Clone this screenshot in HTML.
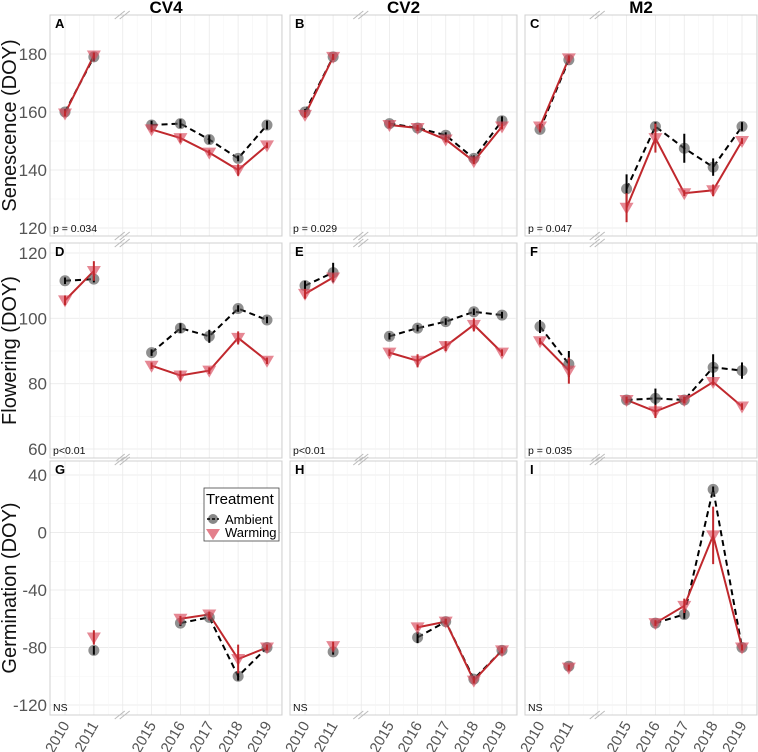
<!DOCTYPE html>
<html><head><meta charset="utf-8"><style>
body{margin:0;background:#fff}
svg{display:block;font-family:"Liberation Sans",sans-serif}
</style></head><body>
<svg id="c" width="758" height="752"></svg>
<script>
const years=["2010","2011","2015","2016","2017","2018","2019"];
const slots=[0,1,3,4,5,6,7];
const colTitles=["CV4","CV2","M2"];
const rowTitles=["Senescence (DOY)","Flowering (DOY)","Germination (DOY)"];
const letters=["A","B","C","D","E","F","G","H","I"];
const pvals=["p = 0.034","p = 0.029","p = 0.047","p<0.01","p<0.01","p = 0.035","NS","NS","NS"];
const yTicks0=[120,140,160,180];
const yTicks1=[60,80,100,120];
const yTicks2=[-120,-80,-40,0,40];
const ambA=[160,179,155.5,156,150.5,144,155.5];
const warA=[159.5,179.5,154,151,146,140,148.5];
const ambB=[160,179,156,154.5,152,144,157];
const warB=[159,179,155.5,154.5,150.5,143,155];
const ambC=[154,178,133.5,155,147.5,141,155];
const warC=[155,178.5,127,151,132,133,150];
const ambD=[111.5,112,89.5,97,94.5,103,99.5];
const warD=[105.5,114.5,85.5,82.5,84,94,87];
const ambE=[110,114,94.5,97,99,102,101];
const warE=[107.5,112.5,89.5,87,91.5,98,89.5];
const ambF=[97.5,86,75,75.5,75,85,84];
const warF=[93,84,75,71.5,75,80.5,73];
const ambG=[null,-82,null,-63,-59,-100,-80];
const warG=[null,-73,null,-60,-57,-88,-80];
const ambH=[null,-83,null,-73,-62,-102,-82];
const warH=[null,-79,null,-66,-62,-103,-82];
const ambI=[null,-93,null,-63,-57,30,-80];
const warI=[null,-94,null,-63,-51,-2,-80];
const errAmb=[[1,1.5,1.5,1.5,1.5,1,1.5],[1,1,1,1,1,1,1.5],[1,1,5,1.5,5,3,1.5],[1,1,1,1.5,2,1,1],[1.5,3,1,1,1,1,1],[2,4,1,3,1,4,2.5],[0,3,0,2,2,3,2],[0,2,0,4,2,2,2],[0,1,0,1,3,2,2]];
const errWar=[[1,1,1,1.5,1,2,1],[1,1,1,1,1,1,1],[1,1,5,5,1,2,1],[1.5,3,1,1.5,1,2,1],[1.5,1,1,2,1.5,2,1],[1,4,1,2,1,1,1],[0,5,0,2,2,10,2],[0,3,0,2,2,2,2],[0,2,0,2,5,20,2]];
const amb=[ambA,ambB,ambC,ambD,ambE,ambF,ambG,ambH,ambI];
const war=[warA,warB,warC,warD,warE,warF,warG,warH,warI];

const NS="http://www.w3.org/2000/svg";
const svg=document.getElementById('c');
function mk(tag,at,parent){const e=document.createElementNS(NS,tag);for(const k in at)e.setAttribute(k,at[k]);(parent||svg).appendChild(e);return e;}
const colX=[[50,282],[290,517],[525,757]];
const rowY=[[15,236],[243,458],[461,715]];
const rowScale=[{v0:180,p0:54,v1:120,p1:228},{v0:120,p0:253,v1:60,p1:449},{v0:40,p0:475,v1:-120,p1:705}];
const rowTicks=[yTicks0,yTicks1,yTicks2];
function yS(r,v){const s=rowScale[r];return s.p0+(v-s.v0)*(s.p1-s.p0)/(s.v1-s.v0);}
function xS(c,i){const [l,rr]=colX[c];const sp=(rr-l-30)/7;return l+15+slots[i]*sp;}

for(let c=0;c<3;c++){
  const t=mk('text',{x:(colX[c][0]+colX[c][1])/2,y:13,'text-anchor':'middle','font-size':17,'font-weight':'bold',fill:'#000'});
  t.textContent=colTitles[c];
  
  
}
for(let r=0;r<3;r++){
  const cy=(rowY[r][0]+rowY[r][1])/2;
  const t=mk('text',{x:0,y:0,transform:`translate(16,${cy}) rotate(-90)`,'text-anchor':'middle','font-size':20,fill:'#111'});
  t.textContent=rowTitles[r];
  
  
  rowTicks[r].forEach(v=>{
    const tt=mk('text',{x:47,y:yS(r,v)+6,'text-anchor':'end','font-size':17,fill:'#555'});
    tt.textContent=v;
    
    
  });
}
for(let r=0;r<3;r++)for(let c=0;c<3;c++){
  const k=r*3+c;
  const [l,rr]=colX[c],[t,b]=rowY[r];
  const g=mk('g',{});
  
  
  mk('rect',{x:l,y:t,width:rr-l,height:b-t,fill:'#fff'},g);
  const ticks=rowTicks[r];
  for(let i=0;i<ticks.length;i++){
    const y=yS(r,ticks[i]);
    if(y>t&&y<b)mk('line',{x1:l,x2:rr,y1:y,y2:y,stroke:'#ececec','stroke-width':0.9},g);
    if(i<ticks.length-1){const ym=yS(r,(ticks[i]+ticks[i+1])/2);mk('line',{x1:l,x2:rr,y1:ym,y2:ym,stroke:'#f5f5f5','stroke-width':0.6},g);}
  }
  for(let s=0;s<8;s++){const sp=(rr-l-30)/7;const x=l+15+s*sp;mk('line',{x1:x,x2:x,y1:t,y2:b,stroke:'#ececec','stroke-width':0.9},g);
    mk('line',{x1:x+sp/2,x2:x+sp/2,y1:t,y2:b,stroke:'#f5f5f5','stroke-width':0.6},g);}
  mk('rect',{x:l,y:t,width:rr-l,height:b-t,fill:'none',stroke:'#d0d0d0','stroke-width':1},g);
  const bx=l+15+2*(rr-l-30)/7;
  [t,b].forEach(y=>{[-3,2].forEach(d=>mk('line',{x1:bx+d-5,y1:y+4,x2:bx+d+5,y2:y-4,stroke:'#bbb','stroke-width':1},g));});
  const lt=mk('text',{x:l+5,y:t+13,'font-size':13,'font-weight':'bold',fill:'#000'},g);lt.textContent=letters[k];
  
  const pt=mk('text',{x:l+3,y:b-4,'font-size':10.5,fill:'#111'},g);pt.textContent=pvals[k];
  
  const segs=[[0,1],[2,3,4,5,6]];
  [[amb[k],'#000','6,4'],[war[k],'#c0282d','']].forEach(([d,col,da],si)=>{
    segs.forEach(sg=>{
      const pts=sg.filter(i=>d[i]!=null).map(i=>xS(c,i)+','+yS(r,d[i]));
      if(pts.length>1){const pl=mk('polyline',{points:pts.join(' '),fill:'none',stroke:col,'stroke-width':2,'stroke-dasharray':da},g);
        }
    });
  });
  for(let i=0;i<7;i++){
    if(amb[k][i]!=null){const x=xS(c,i),y=yS(r,amb[k][i]);
      const e=errAmb[k][i];
      const cc=mk('circle',{cx:x,cy:y,r:5.5,fill:'#555','fill-opacity':0.65},g);
      
      mk('line',{x1:x,x2:x,y1:yS(r,amb[k][i]-e),y2:yS(r,amb[k][i]+e),stroke:'#000','stroke-width':2},g);}
    if(war[k][i]!=null){const x=xS(c,i),y=yS(r,war[k][i]);
      const e=errWar[k][i];
      const tr=mk('polygon',{points:`${x-7},${y-5} ${x+7},${y-5} ${x},${y+7}`,fill:'#d9485a','fill-opacity':0.65},g);
      
      mk('line',{x1:x,x2:x,y1:yS(r,war[k][i]-e),y2:yS(r,war[k][i]+e),stroke:'#c0282d','stroke-width':2},g);}
  }
  if(r===2){
    for(let i=0;i<7;i++){const x=xS(c,i);
      const xt=mk('text',{x:0,y:0,transform:`translate(${x+5},${b+10}) rotate(-60)`,'text-anchor':'end','font-size':15,fill:'#555'});
      xt.textContent=years[i];
      }
  }
}
const lg=mk('g',{});


mk('rect',{x:204,y:488,width:75,height:53,fill:'#fff',stroke:'#444','stroke-width':0.8},lg);
const lt=mk('text',{x:206,y:504,'font-size':15,fill:'#000'},lg);lt.textContent='Treatment';
mk('circle',{cx:213,cy:519,r:5,fill:'#555','fill-opacity':0.7},lg);
mk('line',{x1:207,x2:219,y1:519,y2:519,stroke:'#000','stroke-width':1.5,'stroke-dasharray':'3,2'},lg);
const a=mk('text',{x:225,y:524,'font-size':13,fill:'#000'},lg);a.textContent='Ambient';

mk('polygon',{points:'206,529 220,529 213,540',fill:'#d9485a','fill-opacity':0.7},lg);
const w=mk('text',{x:225,y:537,'font-size':13,fill:'#000'},lg);w.textContent='Warming';

</script>
</body></html>
